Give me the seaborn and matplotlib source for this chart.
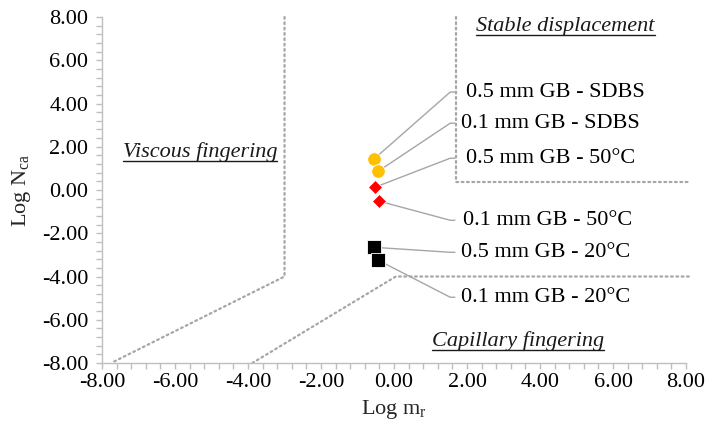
import numpy as np
import pandas as pd
import matplotlib
matplotlib.use("Agg")
import matplotlib.pyplot as plt
from matplotlib.lines import Line2D
from matplotlib.ticker import MultipleLocator, FormatStrFormatter
import seaborn as sns

# Experimental points: log viscosity ratio vs log capillary number
labels = ["0.5 mm GB - SDBS", "0.1 mm GB - SDBS", "0.5 mm GB - 50°C",
          "0.1 mm GB - 50°C", "0.5 mm GB - 20°C", "0.1 mm GB - 20°C"]
condition = ["SDBS", "SDBS", "50°C", "50°C", "20°C", "20°C"]
log_mr = [-0.55, -0.43, -0.52, -0.40, -0.55, -0.43]
log_nca = [1.43, 0.87, 0.13, -0.52, -2.65, -3.25]

# Label anchor positions (left edge of text, vertical centre)
label_x = [1.97, 1.84, 1.97, 1.90, 1.84, 1.84]
label_y = [4.53, 3.09, 1.47, -1.40, -2.88, -4.96]

# Phase diagram boundaries
viscous_x = [-3.0, -3.0, -7.75]
viscous_y = [8.0, -4.0, -8.0]
capillary_x = [-3.88, 0.05, 8.1]
capillary_y = [-8.0, -4.0, -4.0]
stable_x = [1.70, 1.70, 8.1]
stable_y = [8.0, 0.38, 0.38]

region_names = ["Viscous fingering", "Stable displacement", "Capillary fingering"]
region_x = [-5.32, 4.70, 3.39]
region_y = [1.75, 7.54, -7.0]

sns.set_theme(style="white")
plt.rcParams["font.family"] = ["Liberation Serif", "DejaVu Serif"]
plt.rcParams["mathtext.fontset"] = "custom"
plt.rcParams["mathtext.rm"] = "Liberation Serif"
plt.rcParams["mathtext.it"] = "Liberation Serif:italic"

df = pd.DataFrame({"label": labels, "condition": condition,
                   "log_mr": log_mr, "log_nca": log_nca})

fig = plt.figure(figsize=(7.12, 4.34), dpi=100)
ax = fig.add_axes([0.1433, 0.1636, 0.8202, 0.7972])

grey = "#A6A6A6"
dot_style = dict(color=grey, lw=1.6, ls=(0, (0.8, 1.6)), dash_capstyle="round",
                 clip_on=False, zorder=1)
ax.plot(viscous_x, viscous_y, **dot_style)
ax.plot(capillary_x, capillary_y, **dot_style)
ax.plot(stable_x, stable_y, **dot_style)

styles = {
    "SDBS": dict(marker="o", color="#FFC000", s=95),
    "50°C": dict(marker="D", color="#FF0000", s=52),
    "20°C": dict(marker="s", color="#000000", s=100),
}
for cond, st in styles.items():
    sub = df[df["condition"] == cond]
    sns.scatterplot(data=sub, x="log_mr", y="log_nca", ax=ax, marker=st["marker"],
                    color=st["color"], s=st["s"], edgecolor="white",
                    linewidth=0.6, zorder=3, legend=False)

# Leader lines and point labels
knee_x = 1.54
for lab, px, py, tx, ty in zip(labels, log_mr, log_nca, label_x, label_y):
    ax.plot([px, knee_x, knee_x + 0.14], [py, ty, ty], color=grey, lw=1.0,
            zorder=2, solid_capstyle="butt")
    ax.text(tx, ty, lab, fontsize=16, ha="left", va="center", color="black",
            zorder=4)

ax.set_xlim(-8, 8)
ax.set_ylim(-8, 8)
ax.xaxis.set_major_locator(MultipleLocator(2))
ax.yaxis.set_major_locator(MultipleLocator(2))
ax.xaxis.set_minor_locator(MultipleLocator(0.4))
ax.yaxis.set_minor_locator(MultipleLocator(0.4))
ax.xaxis.set_major_formatter(FormatStrFormatter("%.2f"))
ax.yaxis.set_major_formatter(FormatStrFormatter("%.2f"))
ax.tick_params(which="both", direction="out", color="#BFBFBF", length=4,
               width=1, labelsize=16, labelcolor="black", bottom=True, left=True)
ax.tick_params(axis="y", pad=6)
for side in ["top", "right"]:
    ax.spines[side].set_visible(False)
for side in ["left", "bottom"]:
    ax.spines[side].set_color("#BFBFBF")
    ax.spines[side].set_linewidth(1)

ax.set_xlabel(r"Log m$_{\mathrm{r}}$", fontsize=16, labelpad=4)
ax.set_ylabel(r"Log N$_{\mathrm{ca}}$", fontsize=16, labelpad=6)

region_texts = []
for name, rx, ry in zip(region_names, region_x, region_y):
    t = ax.text(rx, ry, name, fontsize=16, style="italic", ha="center",
                va="center", color="#1A1A1A", zorder=4)
    region_texts.append(t)

# Underline the region names
fig.canvas.draw()
renderer = fig.canvas.get_renderer()
for t in region_texts:
    bb = t.get_window_extent(renderer)
    y_line = bb.y0 + 1.5
    fig.add_artist(Line2D([bb.x0, bb.x1], [y_line, y_line],
                          transform=None, color="#1A1A1A", lw=1.0))

fig.savefig("out.png", dpi=100)
